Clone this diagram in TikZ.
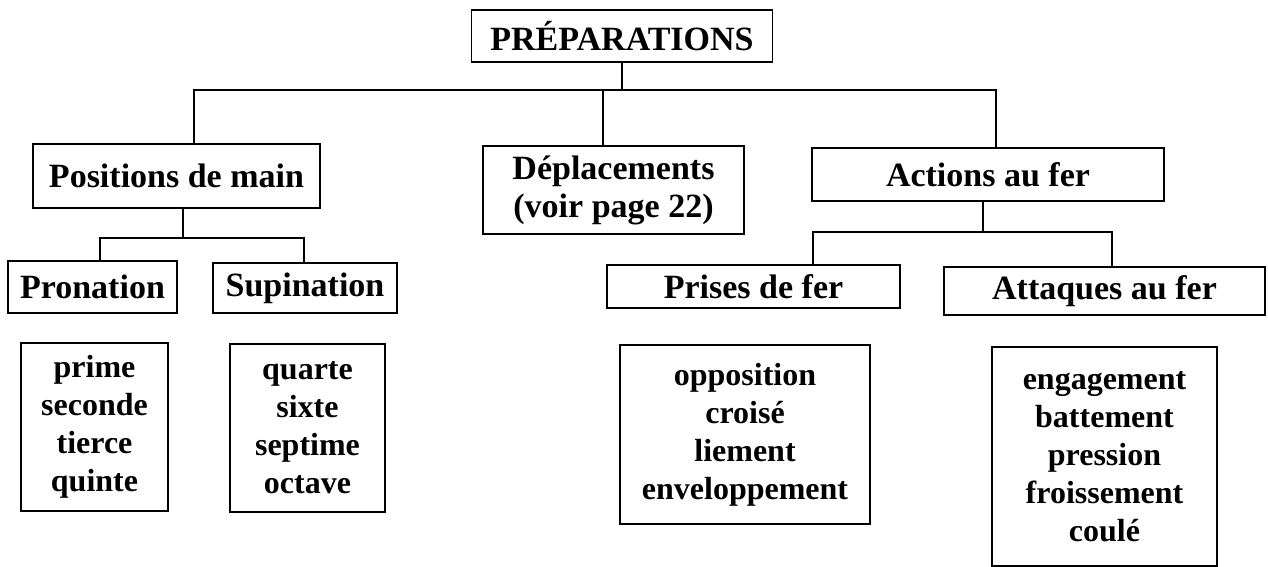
\documentclass[tikz,border=0pt]{standalone}
\usepackage{fontspec}
\setmainfont{Liberation Serif}
\begin{document}
\begin{tikzpicture}[x=1pt,y=-1pt,
  box/.style={draw, line width=1.8pt, inner sep=0pt, align=center,
    font=\fontsize{34}{38}\selectfont\bfseries},
  listbox/.style={box, font=\fontsize{32}{38}\selectfont\bfseries},
  link/.style={line width=1.8pt}]
\useasboundingbox (0,0) rectangle (1268,567);
% header boxes
\node[box, minimum width=301pt, minimum height=52pt] (prep) at (622,36) {PRÉPARATIONS};
\node[box, minimum width=287pt, minimum height=64pt] (pos) at (176.5,176) {Positions de main};
\node[box, minimum width=261pt, minimum height=88pt] (dep) at (613.5,190) {Déplacements\\(voir page 22)};
\node[box, minimum width=352pt, minimum height=53pt] (act) at (988,174.5) {Actions au fer};
\node[box, minimum width=169pt, minimum height=52pt] (pron) at (92.5,287) {Pronation};
\node[box, minimum width=184pt, minimum height=50pt] (sup) at (305,288) {Supination};
\node[box, minimum width=293pt, minimum height=43pt] (prise) at (753.5,286.5) {Prises de fer};
\node[box, minimum width=321pt, minimum height=48pt] (attq) at (1104.5,291) {Attaques au fer};
% list boxes
\node[listbox, minimum width=147pt, minimum height=168pt] (lpron) at (94.5,427) {prime\\seconde\\tierce\\quinte};
\node[listbox, minimum width=155pt, minimum height=168pt] (lsup) at (307.5,428) {quarte\\sixte\\septime\\octave};
\node[listbox, minimum width=250pt, minimum height=179pt] (lprise) at (745,434.5) {opposition\\croisé\\liement\\enveloppement};
\node[listbox, minimum width=225pt, minimum height=219pt] (lattq) at (1104.5,456.5) {engagement\\battement\\pression\\froissement\\coulé};
% junction coordinates
\coordinate (hl) at (194,90);
\coordinate (hr) at (996,90);
\coordinate (hd) at (603,90);
\coordinate (pl) at (100,238);
\coordinate (pr) at (304,238);
\coordinate (pm) at (183,238);
\coordinate (al) at (813,232);
\coordinate (ar) at (1112,232);
\coordinate (am) at (983,232);
% connectors
\draw[link] (prep.south) -- (prep.south |- hl);
\draw[link] (pos.north -| hl) -- (hl) -- (hr) -- (act.north -| hr);
\draw[link] (hd) -- (dep.north -| hd);
\draw[link] (pos.south -| pm) -- (pm);
\draw[link] (pron.north -| pl) -- (pl) -- (pr) -- (sup.north -| pr);
\draw[link] (act.south -| am) -- (am);
\draw[link] (prise.north -| al) -- (al) -- (ar) -- (attq.north -| ar);
\end{tikzpicture}
\end{document}
